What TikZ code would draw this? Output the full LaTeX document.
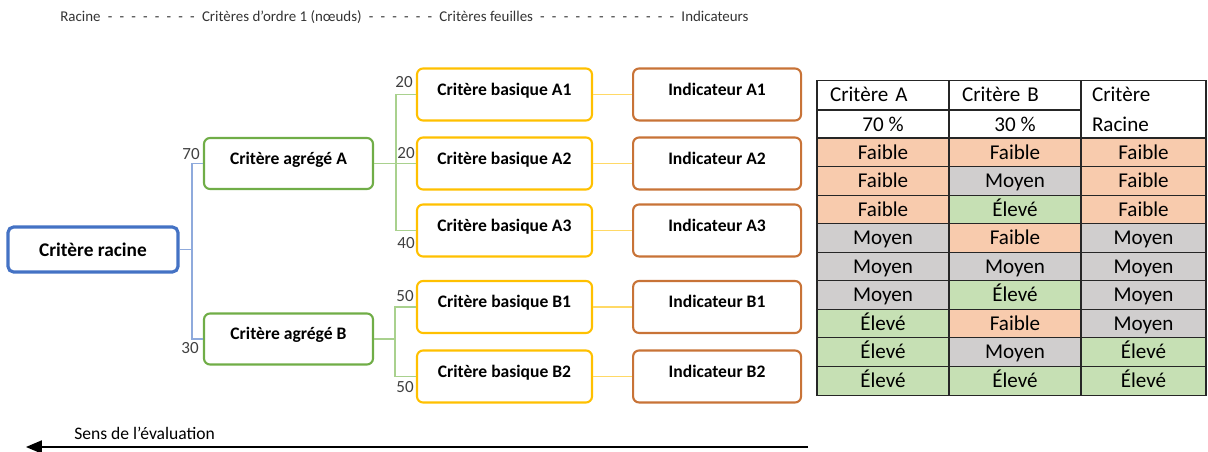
\documentclass[tikz,border=0pt]{standalone}
\usepackage{fontspec}
\setmainfont{Carlito}
\usetikzlibrary{arrows,positioning}

\definecolor{racblue}{HTML}{4472C4}
\definecolor{agggreen}{HTML}{70AD47}
\definecolor{basyellow}{HTML}{FFC000}
\definecolor{indorange}{RGB}{200,115,55}
\definecolor{lnblue}{HTML}{8FAADC}
\definecolor{lngreen}{HTML}{A9D18E}
\definecolor{lnyellow}{HTML}{FFD966}
\definecolor{faible}{HTML}{F8CBAD}
\definecolor{moyen}{HTML}{D0CECE}
\definecolor{eleve}{HTML}{C6E0B4}

\newcommand{\tirets}[1]{\foreach \k in {1,...,#1}{\hspace{4.1pt}-}\hspace{4.1pt}}

\tikzset{
  box/.style={draw, rounded corners=0.12cm, line width=1.2pt, align=center,
    font=\fontsize{10}{12}\selectfont\bfseries, text height=7pt, text depth=6pt},
  root/.style={draw=racblue, rounded corners=0.11cm, line width=1.8pt,
    minimum width=3.4cm, minimum height=0.9cm, font=\fontsize{11}{13}\selectfont\bfseries},
  aggr/.style={box, draw=agggreen, minimum width=3.38cm, minimum height=1.02cm},
  basic/.style={box, draw=basyellow, minimum width=3.5cm, minimum height=1.04cm},
  indic/.style={box, draw=indorange, minimum width=3.36cm, minimum height=1.04cm},
  weight/.style={inner sep=0pt, text=black!75, font=\fontsize{9.7}{11}\selectfont},
  lblue/.style={lnblue, line width=0.7pt},
  lgreen/.style={lngreen, line width=0.7pt},
  lyellow/.style={lnyellow, line width=0.95pt},
  cell/.style={draw=black!85, line width=0.6pt, inner sep=0pt, minimum width=2.64cm,
    minimum height=0.5712cm, font=\fontsize{12}{14}\selectfont, text height=9pt, text depth=1.3pt},
  lastcol/.style={cell, minimum width=2.5cm},
  hleft/.style={cell, align=left, text width=2.12cm, inner xsep=0.26cm},
  Faible/.style={fill=faible},
  Moyen/.style={fill=moyen},
  Élevé/.style={fill=eleve}
}

\begin{document}
\begin{tikzpicture}[x=0.02cm, y=-0.02cm]
  \useasboundingbox (0,0) rectangle (1208,452);

  % niveaux
  \node[anchor=west, inner sep=0pt, text=black!80, font=\fontsize{8.5}{10}\selectfont] (levels) at (60,17)
    {Racine\tirets{8}Critères d’ordre 1 (nœuds)\tirets{6}Critères feuilles\tirets{12}Indicateurs};

  % arbre
  \node[root] (racine) at (93,249.5) {Critère racine};
  \node[aggr] (aggA) at (288.5,163.5) {Critère agrégé A};
  \node[aggr] (aggB) at (288.5,339) {Critère agrégé B};

  \node[basic] (bA1) at (504.5,94.5) {Critère basique A1};
  \node[basic] (bA2) at (504.5,163.5) {Critère basique A2};
  \node[basic] (bA3) at (504.5,230.5) {Critère basique A3};
  \node[basic] (bB1) at (504.5,307) {Critère basique B1};
  \node[basic] (bB2) at (504.5,376.5) {Critère basique B2};

  \node[indic] (iA1) [right=0.78cm of bA1] {Indicateur A1};
  \node[indic] (iA2) [right=0.78cm of bA2] {Indicateur A2};
  \node[indic] (iA3) [right=0.78cm of bA3] {Indicateur A3};
  \node[indic] (iB1) [right=0.78cm of bB1] {Indicateur B1};
  \node[indic] (iB2) [right=0.78cm of bB2] {Indicateur B2};

  \coordinate (jR) at (192,249.5);
  \coordinate (jA) at (396,163.5);
  \coordinate (jB) at (395,339);

  \draw[lblue] (racine) -- (jR) |- (aggA) (jR) |- (aggB);
  \draw[lgreen] (aggA) -- (jA) |- (bA1) (jA) |- (bA2) (jA) |- (bA3);
  \draw[lgreen] (aggB) -- (jB) |- (bB1) (jB) |- (bB2);
  \path[lyellow]
    (bA1) edge (iA1)
    (bA2) edge (iA2)
    (bA3) edge (iA3)
    (bB1) edge (iB1)
    (bB2) edge (iB2)
    ;

  % poids
  \node[weight] (w70) at (191,154) {70};
  \node[weight] (w30) at (190,348) {30};
  \node[weight] (wA1) at (404,82) {20};
  \node[weight] (wA2) at (406,153) {20};
  \node[weight] (wA3) at (406,243) {40};
  \node[weight] (wB1) at (405,296) {50};
  \node[weight] (wB2) at (405,387) {50};

  % table
  \node[hleft, anchor=north] (hA) at (883,80) {Critère A};
  \node[hleft, anchor=north] (hB) at (1015,80) {Critère B};
  \node[cell, below=0pt of hA] (pA) {70 \%};
  \node[cell, below=0pt of hB] (pB) {30 \%};
  \node[draw=black!85, line width=0.6pt, inner xsep=0.22cm, inner ysep=0pt, minimum height=1.1424cm,
    text width=2.06cm, align=left, font=\fontsize{12}{17}\selectfont, anchor=north] (hR) at (1143.5,80) {Critère\\Racine};
  \foreach \ta/\tb/\tr [count=\i] in {Faible/Faible/Faible, Faible/Moyen/Faible, Faible/Élevé/Faible,
      Moyen/Faible/Moyen, Moyen/Moyen/Moyen, Moyen/Élevé/Moyen,
      Élevé/Faible/Moyen, Élevé/Moyen/Élevé, Élevé/Élevé/Élevé} {
    \node[cell, \ta] (a\i) at (883,{123.72+28.56*\i}) {\ta};
    \node[cell, \tb] (b\i) at (1015,{123.72+28.56*\i}) {\tb};
    \node[lastcol, \tr] (r\i) at (1143.5,{123.72+28.56*\i}) {\tr};
  }

  % sens
  \coordinate (evalStart) at (808,447);
  \coordinate (evalEnd) at (26,447);
  \draw[-triangle 45, line width=1.1pt] (evalStart) -- (evalEnd);
  \node[anchor=west, inner sep=0pt, font=\fontsize{10}{12}\selectfont] (sens) at (74,433) {Sens de l’évaluation};
\end{tikzpicture}
\end{document}
